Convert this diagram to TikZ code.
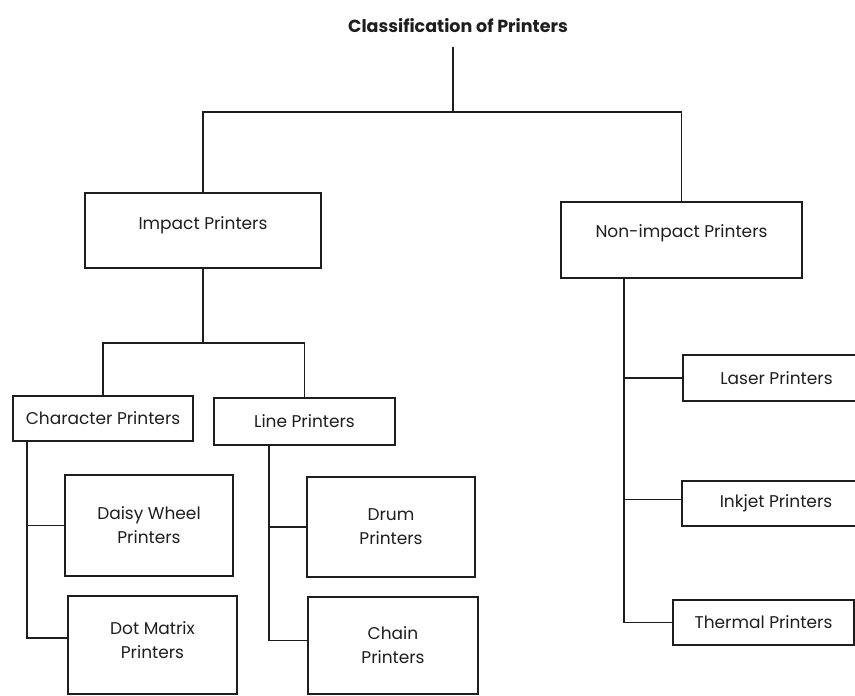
\documentclass[tikz,border=0pt]{standalone}
\usepackage{fontspec}
\setmainfont{Poppins}
\usetikzlibrary{positioning}
\definecolor{ink}{RGB}{30,30,30}

\begin{document}
\begin{tikzpicture}[x=1pt,y=-1pt,
  box/.style={rectangle,draw=ink,line width=1.6pt,align=center,text=ink,
              font=\fontsize{17}{24}\selectfont,inner sep=2pt},
  link/.style={draw=ink,line width=1.6pt}
]
\useasboundingbox (0,0) rectangle (855,696);

% Title and root
\node[font=\fontsize{17.5}{20}\selectfont\bfseries,text=ink] (title) at (458,26) {Classification of Printers};
\coordinate (hub) at (453,112);

% Level 1
\node[box,minimum width=236,minimum height=75,text depth=14pt] (imp) at (203,230.5) {Impact Printers};
\node[box,minimum width=241,minimum height=76,text depth=18pt] (non) at (681.5,240) {Non-impact Printers};
\draw[link] (title.south) ++(-5,10) -- (hub);
\draw[link] (imp.north) |- (hub) -| (non.north);

% Impact branch
\node[box,minimum width=180,minimum height=45] (chr) at (103,418.5) {Character Printers};
\node[box,minimum width=181,minimum height=47] (lin) at (304.5,421.5) {Line Printers};
\coordinate (isplit) at (203,343);
\draw[link] (imp) -- (isplit);
\draw[link] (chr.north) |- (isplit) -| (lin.north);

% Character printers
\node[box,minimum width=168,minimum height=101] (dai) at (149,525.5) {Daisy Wheel\\Printers};
\node[box,minimum width=169,minimum height=98,text depth=10pt] (dot) at (152.5,645) {Dot Matrix\\Printers};
\draw[link] ([xshift=15]chr.south west) |- (dai.west);
\draw[link] ([xshift=15]chr.south west) |- ([yshift=7]dot.west);

% Line printers
\node[box,minimum width=168,minimum height=100] (dru) at (391,527) {Drum\\Printers};
\node[box,minimum width=170,minimum height=97] (cha) at (393,645.5) {Chain\\Printers};
\draw[link] ([xshift=56]lin.south west) |- (dru.west);
\draw[link] ([xshift=56]lin.south west) |- ([yshift=5]cha.west);

% Non-impact branch
\node[box,minimum width=187,minimum height=46] (las) at (776.5,378) {Laser Printers};
\node[box,minimum width=188,minimum height=45] (inj) at (776,503.5) {Inkjet Printers};
\node[box,minimum width=181,minimum height=45] (the) at (763.5,622.5) {Thermal Printers};
\draw[link] ([xshift=64]non.south west) |- (las.west);
\draw[link] ([xshift=64]non.south west) |- ([yshift=4]inj.west);
\draw[link] ([xshift=64]non.south west) |- (the.west);
\end{tikzpicture}
\end{document}
